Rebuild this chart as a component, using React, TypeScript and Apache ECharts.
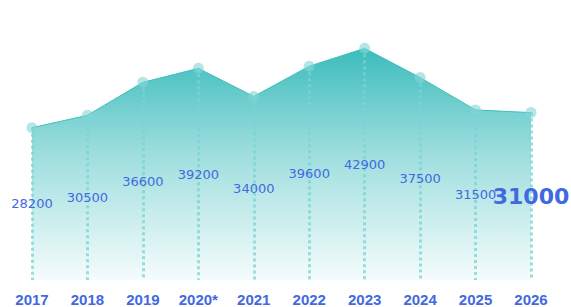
import React, { useEffect, useRef } from "react";
import * as echarts from "echarts";

const years = ["2017", "2018", "2019", "2020*", "2021", "2022", "2023", "2024", "2025", "2026"];
const values = [28200, 30500, 36600, 39200, 34000, 39600, 42900, 37500, 31500, 31000];
const highlightIndex = 9;

export default function App() {
  const ref = useRef<HTMLDivElement>(null);
  useEffect(() => {
    if (!ref.current) return;
    const chart = echarts.init(ref.current, null, { renderer: "svg" });
    const blue = "#4169e1";
    chart.setOption({
      animation: false,
      grid: { left: 32, right: 40, top: 10, bottom: 27 },
      xAxis: {
        type: "category",
        data: years,
        boundaryGap: false,
        axisLine: { show: false },
        axisTick: { show: false },
        splitLine: { show: false },
        axisLabel: {
          color: blue,
          fontWeight: "bold",
          fontSize: 15,
          fontFamily: "Liberation Sans, Arial, sans-serif",
          margin: 12,
        },
      },
      yAxis: {
        type: "value",
        min: 0,
        max: 50000,
        show: false,
      },
      series: [
        {
          type: "line",
          data: values,
          symbol: "circle",
          symbolSize: 11,
          itemStyle: { color: "rgba(130,214,214,0.6)" },
          lineStyle: { color: "#3fbfbf", width: 1 },
          areaStyle: {
            opacity: 1,
            color: new echarts.graphic.LinearGradient(0, 0, 0, 1, [
              { offset: 0, color: "rgba(60,188,188,1)" },
              { offset: 0.45, color: "rgba(60,188,188,0.5)" },
              { offset: 1, color: "rgba(60,188,188,0.05)" },
            ]),
          },
          markLine: {
            silent: true,
            symbol: "none",
            label: { show: false },
            lineStyle: { color: "rgba(120,212,212,0.75)", type: [3, 3], width: 3 },
            data: values.map((v, i) => [
              { coord: [i, v] },
              { coord: [i, 0] },
            ]),
          },
          z: 2,
        },
        {
          type: "bar",
          data: values.map((v, i) =>
            i === highlightIndex
              ? { value: v, label: { fontSize: 22, fontWeight: "bold" } }
              : v
          ),
          barWidth: 1,
          itemStyle: { color: "rgba(0,0,0,0)" },
          label: {
            show: true,
            position: "inside",
            color: blue,
            fontSize: 13,
            fontFamily: "DejaVu Sans, sans-serif",
          },
          z: 5,
        },
      ],
    });
    return () => chart.dispose();
  }, []);
  return (
    <div
      ref={ref}
      style={{ position: "absolute", left: 0, top: 0, width: 571, height: 307 }}
    />
  );
}
